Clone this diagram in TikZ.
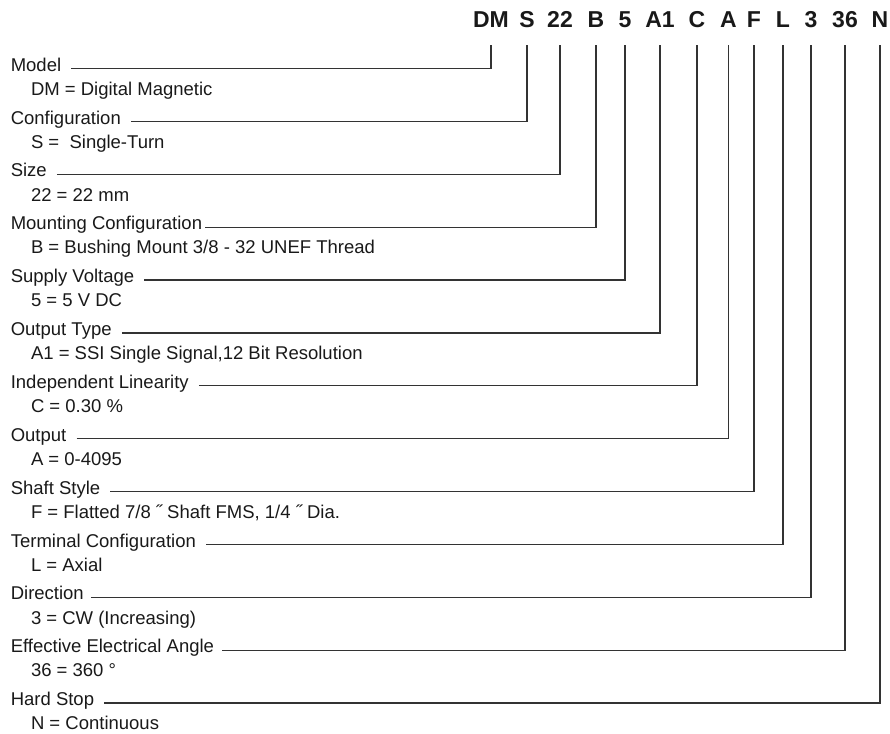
\documentclass[tikz,border=0pt]{standalone}
\usepackage{fontspec}
\setmainfont{Liberation Sans}
\begin{document}
\begin{tikzpicture}[x=1pt,y=-1pt,
  code/.style={font=\fontsize{23}{25}\selectfont\bfseries, inner sep=0pt, text depth=17pt, anchor=base, text=black!90},
  lab/.style={font=\fontsize{18.5}{20}\selectfont, inner sep=0pt, anchor=mid west, text=black!90},
  val/.style={font=\fontsize{18.5}{20}\selectfont, inner sep=0pt, anchor=base west, text=black!90},
  lead/.style={draw=black!80, line width=1.2pt}]
\useasboundingbox (0,0) rectangle (890,733);
% header codes
\node[code] (c1) at (491,28) {DM};
\node[code] (c2) at (527,28) {S};
\node[code] (c3) at (560,28) {22};
\node[code] (c4) at (596,28) {B};
\node[code] (c5) at (625,28) {5};
\node[code] (c6) at (660,28) {A1};
\node[code] (c7) at (697,28) {C};
\node[code] (c8) at (728.5,28) {A};
\node[code] (c9) at (754,28) {F};
\node[code] (c10) at (783,28) {L};
\node[code] (c11) at (811,28) {3};
\node[code] (c12) at (845,28) {36};
\node[code] (c13) at (880,28) {N};
% labels
\node[lab] (l1) at (10.6,68.5) {Model};
\node[lab] (l2) at (10.6,121.4) {Configuration};
\node[lab] (l3) at (10.6,174.3) {Size};
\node[lab] (l4) at (10.6,227.1) {Mounting Configuration};
\node[lab] (l5) at (10.6,280.0) {Supply Voltage};
\node[lab] (l6) at (10.6,332.9) {Output Type};
\node[lab] (l7) at (10.6,385.8) {Independent Linearity};
\node[lab] (l8) at (10.6,438.6) {Output};
\node[lab] (l9) at (10.6,491.5) {Shaft Style};
\node[lab] (l10) at (10.6,544.4) {Terminal Configuration};
\node[lab] (l11) at (10.6,597.3) {Direction};
\node[lab] (l12) at (10.6,650.1) {Effective Electrical Angle};
\node[lab] (l13) at (10.6,703.0) {Hard Stop};
% values
\node[val] (v1) at (30.8,95.2) {DM = Digital Magnetic};
\node[val] (v2) at (30.8,148.1) {S =\ \ Single-Turn};
\node[val] (v3) at (30.8,201.0) {22 = 22 mm};
\node[val] (v4) at (30.8,253.8) {B = Bushing Mount 3/8 - 32 UNEF Thread};
\node[val] (v5) at (30.8,306.7) {5 = 5 V DC};
\node[val] (v6) at (30.8,359.6) {A1 = SSI Single Signal,12 Bit Resolution};
\node[val] (v7) at (30.8,412.5) {C = 0.30 \%};
\node[val] (v8) at (30.8,465.3) {A = 0-4095};
\node[val] (v9) at (30.8,518.2) {F = Flatted 7/8 ˝ Shaft FMS, 1/4 ˝ Dia.};
\node[val] (v10) at (30.8,571.1) {L = Axial};
\node[val] (v11) at (30.8,624.0) {3 = CW (Increasing)};
\node[val] (v12) at (30.8,676.8) {36 = 360 °};
\node[val] (v13) at (30.8,729.7) {N = Continuous};
% leaders
\draw[lead] ([xshift=10pt]l1.mid east) -| (c1.south);
\draw[lead] ([xshift=10pt]l2.mid east) -| (c2.south);
\draw[lead] ([xshift=10pt]l3.mid east) -| (c3.south);
\draw[lead] ([xshift=3pt]l4.mid east) -| (c4.south);
\draw[lead] ([xshift=10pt]l5.mid east) -| (c5.south);
\draw[lead] ([xshift=10pt]l6.mid east) -| (c6.south);
\draw[lead] ([xshift=10pt]l7.mid east) -| (c7.south);
\draw[lead] ([xshift=10pt]l8.mid east) -| (c8.south);
\draw[lead] ([xshift=10pt]l9.mid east) -| (c9.south);
\draw[lead] ([xshift=10pt]l10.mid east) -| (c10.south);
\draw[lead] ([xshift=7pt]l11.mid east) -| (c11.south);
\draw[lead] ([xshift=8pt]l12.mid east) -| (c12.south);
\draw[lead] ([xshift=10pt]l13.mid east) -| (c13.south);
\end{tikzpicture}
\end{document}
